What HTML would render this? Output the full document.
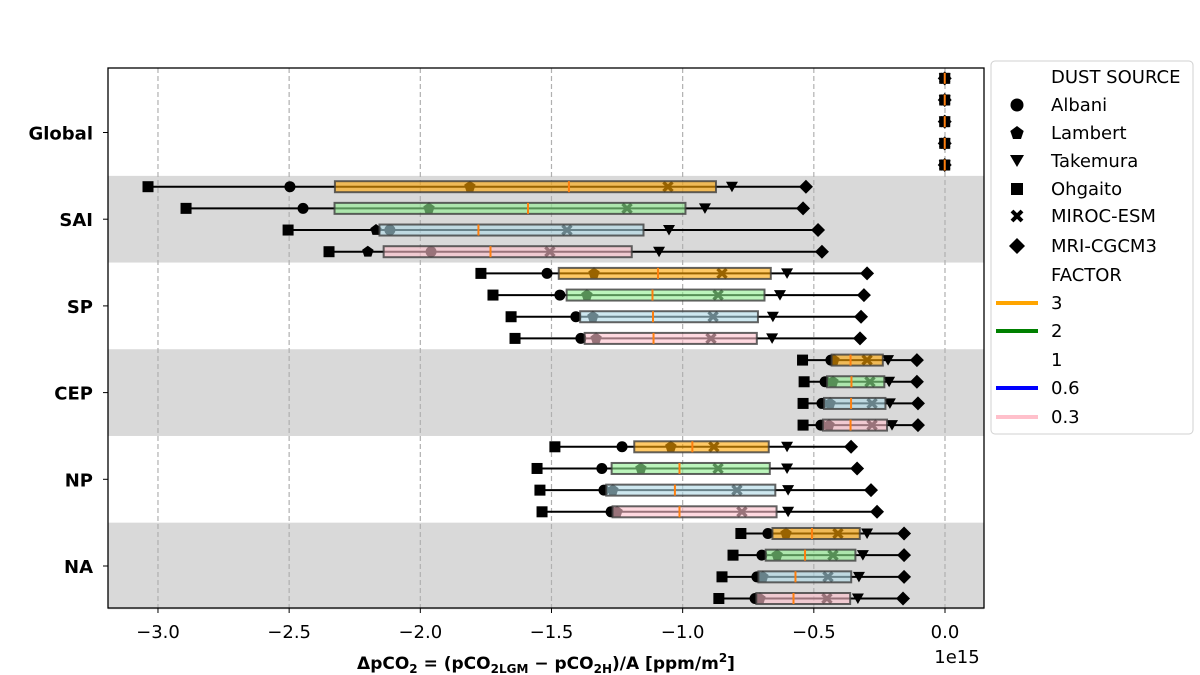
<!DOCTYPE html>
<html><head><meta charset="utf-8">
<style>
body{margin:0;background:#fff;}
svg{display:block;font-family:"DejaVu Sans","Liberation Sans",sans-serif;}
</style></head>
<body>
<svg id="chart" width="1200" height="675" viewBox="0 0 1200 675" xmlns="http://www.w3.org/2000/svg">
<g id="bands"></g><g id="grid"></g><g id="marks"></g><g id="axes"></g><g id="legend"></g>
</svg>
<script>
// ---- data ----
const regions = ["Global","SAI","SP","CEP","NP","NA"];
const factors = ["3","2","1","0.6","0.3"];
const models = ["Albani","Lambert","Takemura","Ohgaito","MIROC-ESM","MRI-CGCM3"];
// values per row: [Albani, Lambert, Takemura, Ohgaito, MIROC, MRI] (x1e15)
const globalVals = [
 [-0.001,-0.001,-0.001,-0.001,-0.001,-0.001],
 [-0.001,-0.001,-0.001,-0.001,-0.001,-0.001],
 [-0.001,-0.001,-0.001,-0.001,-0.001,-0.001],
 [-0.001,-0.001,-0.001,-0.001,-0.001,-0.001],
 [-0.001,-0.001,-0.001,-0.001,-0.001,-0.001]];
const saiVals = [
 [-2.497,-1.811,-0.812,-3.038,-1.056,-0.530],
 [-2.447,-1.967,-0.915,-2.893,-1.212,-0.541],
 [-2.116,-2.169,-1.052,-2.504,-1.441,-0.484],
 [-1.959,-2.200,-1.090,-2.348,-1.506,-0.469]];
const spVals = [
 [-1.517,-1.338,-0.602,-1.769,-0.850,-0.297],
 [-1.468,-1.365,-0.629,-1.723,-0.865,-0.309],
 [-1.407,-1.342,-0.656,-1.654,-0.884,-0.320],
 [-1.388,-1.330,-0.659,-1.639,-0.892,-0.324]];
const cepVals = [
 [-0.435,-0.423,-0.217,-0.543,-0.297,-0.107],
 [-0.457,-0.427,-0.213,-0.537,-0.286,-0.107],
 [-0.469,-0.438,-0.210,-0.541,-0.278,-0.103],
 [-0.473,-0.442,-0.202,-0.541,-0.278,-0.103]];
const npVals = [
 [-1.231,-1.045,-0.602,-1.487,-0.881,-0.358],
 [-1.308,-1.159,-0.602,-1.555,-0.865,-0.335],
 [-1.300,-1.266,-0.598,-1.544,-0.793,-0.282],
 [-1.273,-1.250,-0.598,-1.536,-0.774,-0.259]];
const naVals = [
 [-0.675,-0.606,-0.297,-0.778,-0.408,-0.156],
 [-0.698,-0.640,-0.313,-0.808,-0.427,-0.156],
 [-0.717,-0.694,-0.328,-0.850,-0.446,-0.156],
 [-0.724,-0.705,-0.332,-0.862,-0.450,-0.160]];
const xTicks = [-3.0,-2.5,-2.0,-1.5,-1.0,-0.5,0.0];
const xTickLabels = ["\u22123.0","\u22122.5","\u22122.0","\u22121.5","\u22121.0","\u22120.5","0.0"];

// ---- layout ----
const L=108,R=984,T=68,B=608, XMIN=-3.1905, XMAX=0.1487;
const X=v=>L+(v-XMIN)/(XMAX-XMIN)*(R-L);
const regionCenter=i=>132.5+i*86.7;
const rowY=(i,k)=>regionCenter(i)+(k-1.5)*21.67;
const NS="http://www.w3.org/2000/svg";
function mk(tag,attrs,parent){const e=document.createElementNS(NS,tag);for(const k in attrs)e.setAttribute(k,attrs[k]);parent.appendChild(e);return e;}
const gB=document.getElementById('bands'),gG=document.getElementById('grid'),gM=document.getElementById('marks'),gA=document.getElementById('axes'),gL=document.getElementById('legend');
const fillCols=["rgba(255,165,0,0.6)","rgba(144,238,144,0.6)","rgba(173,216,230,0.6)","rgba(255,192,203,0.6)"];

// bands
[1,3,5].forEach(i=>{
 const r=mk('rect',{x:L,y:regionCenter(i)-43.35,width:R-L,height:86.7,fill:'#d9d9d9'},gB);
 
 
});
// grid
xTicks.forEach((t,j)=>{
 const l=mk('line',{x1:X(t),x2:X(t),y1:T,y2:B,stroke:'#b0b0b0','stroke-width':1.2,'stroke-dasharray':'5,3'},gG);
 
 
});

function marker(m,x,y,p){
 const s=5.5;let e;
 if(m===0)e=mk('circle',{cx:x,cy:y,r:5.5,fill:'#000'},p);
 else if(m===1){const pts=[];for(let a=0;a<5;a++){const ang=-Math.PI/2+a*2*Math.PI/5;pts.push((x+6*Math.cos(ang)).toFixed(1)+','+(y+6*Math.sin(ang)).toFixed(1));}e=mk('polygon',{points:pts.join(' '),fill:'#000'},p);}
 else if(m===2)e=mk('polygon',{points:`${x-6},${y-5} ${x+6},${y-5} ${x},${y+5.5}`,fill:'#000'},p);
 else if(m===3)e=mk('rect',{x:x-s,y:y-s,width:2*s,height:2*s,fill:'#000'},p);
 else if(m===4)e=mk('path',{d:`M${x-4.5},${y-4.5}L${x+4.5},${y+4.5}M${x+4.5},${y-4.5}L${x-4.5},${y+4.5}`,stroke:'#000','stroke-width':3.4},p);
 else e=mk('polygon',{points:`${x},${y-7} ${x+7},${y} ${x},${y+7} ${x-7},${y}`,fill:'#000'},p);
 return e;
}
function pct(sorted,q){const idx=(sorted.length-1)*q,lo=Math.floor(idx),hi=Math.ceil(idx);return sorted[lo]+(sorted[hi]-sorted[lo])*(idx-lo);}

const allData=[globalVals,saiVals,spVals,cepVals,npVals,naVals];
allData.forEach((rows,i)=>{
 const start = rows.length===5 ? -1 : 0;
 rows.forEach((vals,r)=>{
  const k=start+r, y=rowY(i,k);
  const s=[...vals].sort((a,b)=>a-b);
  const mn=s[0],mx=s[s.length-1],q1=pct(s,0.25),q3=pct(s,0.75),md=pct(s,0.5);
  const g=mk('g',{},gM);
  
  
  const w=mk('line',{x1:X(mn),x2:X(mx),y1:y,y2:y,stroke:'#000','stroke-width':2},g);
  
  
  [mn,mx].forEach(v=>{const c=mk('line',{x1:X(v),x2:X(v),y1:y-5,y2:y+5,stroke:'#000','stroke-width':2},g);
   
   });
  vals.forEach((v,m)=>{const e=marker(m,X(v),y,g);
   
   });
  const fi = rows.length===5 ? r%4 : r;
  const b=mk('rect',{x:X(q1),y:y-5.5,width:Math.max(0,X(q3)-X(q1)),height:11,fill:fillCols[fi],stroke:'rgba(60,60,60,0.8)','stroke-width':2},g);
  
  
  const ml=mk('line',{x1:X(md),x2:X(md),y1:y-5.5,y2:y+5.5,stroke:'#ff7f0e','stroke-width':2},g);
  
  
 });
});

// axes frame
const fr=mk('rect',{x:L,y:T,width:R-L,height:B-T,fill:'none',stroke:'#000','stroke-width':1.3},gA);


xTicks.forEach((t,j)=>{
 mk('line',{x1:X(t),x2:X(t),y1:B,y2:B+5,stroke:'#000','stroke-width':1},gA);
 const tx=mk('text',{x:X(t),y:B+30,'text-anchor':'middle','font-size':18,fill:'#000'},gA);
 tx.textContent=xTickLabels[j];
 
 
});
regions.forEach((r,i)=>{
 mk('line',{x1:L-5,x2:L,y1:regionCenter(i),y2:regionCenter(i),stroke:'#000','stroke-width':1},gA);
 const tx=mk('text',{x:93,y:regionCenter(i)+7,'text-anchor':'end','font-size':18,'font-weight':'bold',fill:'#000'},gA);
 tx.textContent=r;
 
 
});
</script>
<svg style="position:absolute;left:0;top:0" width="1200" height="675">
 <text x="957" y="663" font-size="18" font-family="DejaVu Sans, Liberation Sans, sans-serif" text-anchor="middle">1e15</text>
 <text x="546" y="669" font-size="17" font-weight="bold" font-family="DejaVu Sans, Liberation Sans, sans-serif" text-anchor="middle">ΔpCO<tspan font-size="12" dy="4">2</tspan><tspan dy="-4"> = (pCO</tspan><tspan font-size="12" dy="4">2LGM</tspan><tspan dy="-4"> − pCO</tspan><tspan font-size="12" dy="4">2H</tspan><tspan dy="-4">)/A [ppm/m</tspan><tspan font-size="12" dy="-7">2</tspan><tspan dy="7">]</tspan></text>
 <g font-family="DejaVu Sans, Liberation Sans, sans-serif" font-size="18">
  <rect x="991" y="61" width="202" height="373" rx="4" fill="#fff" stroke="#d0d0d0" stroke-width="1"/>
  <text x="1051" y="83">DUST SOURCE</text>
  <circle cx="1017" cy="105" r="6.5" fill="#000"/><text x="1051" y="111">Albani</text>
  <polygon points="1017,126 1023.7,131 1021,139 1013,139 1010.3,131" fill="#000"/><text x="1051" y="139">Lambert</text>
  <polygon points="1010,155 1024,155 1017,167" fill="#000"/><text x="1051" y="167">Takemura</text>
  <rect x="1011" y="183" width="12" height="12" fill="#000"/><text x="1051" y="195">Ohgaito</text>
  <path d="M1012,211L1022,221M1022,211L1012,221" stroke="#000" stroke-width="4"/><text x="1051" y="222">MIROC-ESM</text>
  <polygon points="1017,238 1025,246 1017,254 1009,246" fill="#000"/><text x="1051" y="252">MRI-CGCM3</text>
  <text x="1051" y="281">FACTOR</text>
  <line x1="996" x2="1038" y1="303" y2="303" stroke="orange" stroke-width="4"/><text x="1051" y="309">3</text>
  <line x1="996" x2="1038" y1="331" y2="331" stroke="green" stroke-width="4"/><text x="1051" y="337">2</text>
  <line x1="996" x2="1038" y1="360" y2="360" stroke="white" stroke-width="4"/><text x="1051" y="366">1</text>
  <line x1="996" x2="1038" y1="388" y2="388" stroke="blue" stroke-width="4"/><text x="1051" y="394">0.6</text>
  <line x1="996" x2="1038" y1="417" y2="417" stroke="pink" stroke-width="4"/><text x="1051" y="423">0.3</text>
 </g>
</svg>
</body></html>
